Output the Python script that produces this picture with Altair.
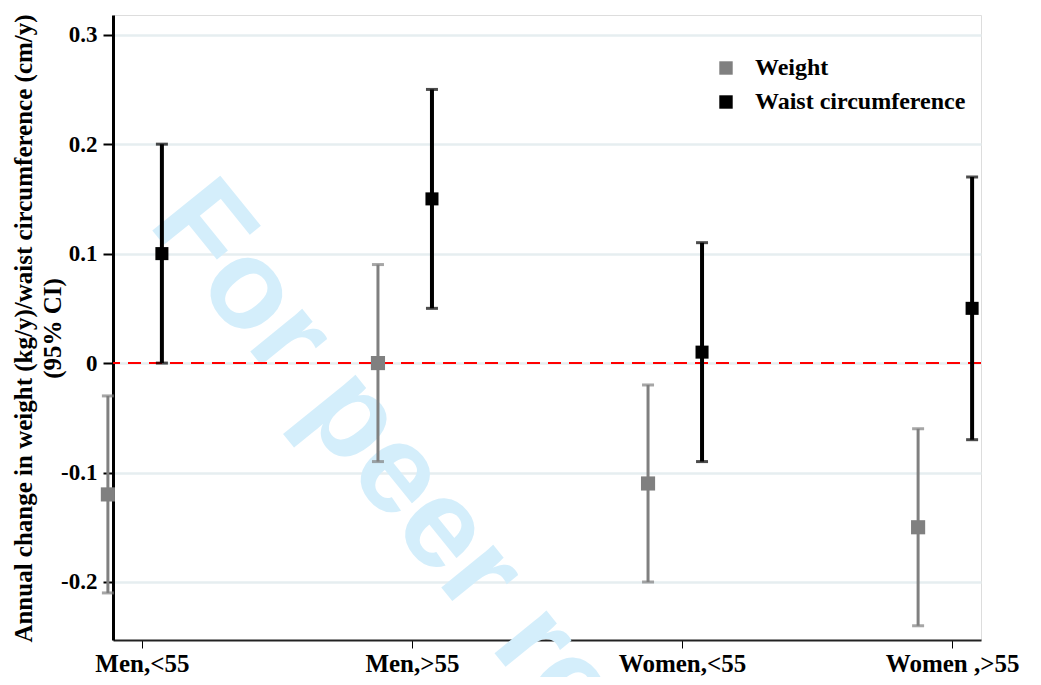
import altair as alt
import pandas as pd

categories = ["Men,<55", "Men,>55", "Women,<55", "Women ,>55"]
series = ["Weight", "Waist circumference"]
weight_mean = [-0.12, 0.00, -0.11, -0.15]
weight_lo = [-0.21, -0.09, -0.20, -0.24]
weight_hi = [-0.03, 0.09, -0.02, -0.06]
waist_mean = [0.10, 0.15, 0.01, 0.05]
waist_lo = [0.00, 0.05, -0.09, -0.07]
waist_hi = [0.20, 0.25, 0.11, 0.17]
y_ticks = [-0.2, -0.1, 0, 0.1, 0.2, 0.3]

weight_df = pd.DataFrame({"cat": categories, "series": series[0], "mean": weight_mean,
                          "lo": weight_lo, "hi": weight_hi})
waist_df = pd.DataFrame({"cat": categories, "series": series[1], "mean": waist_mean,
                         "lo": waist_lo, "hi": waist_hi})

SERIF = "Liberation Serif"
xscale = alt.Scale(type="point", domain=categories, padding=0.107)
yscale = alt.Scale(domain=[-0.253, 0.318], nice=False, zero=False)
cscale = alt.Scale(domain=series, range=["#808080", "#000000"])

x_enc = alt.X("cat:N", scale=xscale, sort=categories,
              axis=alt.Axis(title=None, labelAngle=0, labelFont=SERIF, labelFontWeight="bold",
                            labelFontSize=25, labelColor="#000", labelPadding=3,
                            domainColor="#222", domainWidth=2, tickColor="#000",
                            tickWidth=1, tickSize=8, grid=False))


def y_enc(field):
    return alt.Y(field, type="quantitative", scale=yscale,
                 axis=alt.Axis(values=y_ticks, labelExpr="'' + datum.value",
                               title=["Annual change in weight (kg/y)/waist circumference (cm/y)",
                                      "(95% CI)"],
                               titleFont=SERIF, titleFontWeight="bold", titleFontSize=25,
                               titleColor="#000", titleLineHeight=29, titleAngle=-90,
                               titleX=-102, titleY=313, titleAlign="center", titleBaseline="top",
                               labelFont=SERIF, labelFontWeight="bold", labelFontSize=23,
                               labelColor="#000", labelPadding=6,
                               domainColor="#000", domainWidth=3, tickColor="#000",
                               tickWidth=2, tickSize=10,
                               grid=True, gridColor="#e6eef0", gridWidth=2.5))


watermark = alt.Chart(pd.DataFrame({"t": ["For peer review"]})).mark_text(
    align="left", baseline="alphabetic", angle=51, fontSize=127, font="Liberation Sans",
    fontWeight="bold", color="#d4eefb"
).encode(text="t:N", x=alt.value(34), y=alt.value(209))

zero_line = alt.Chart(pd.DataFrame({"z": [0]})).mark_rule(
    color="#ff0000", strokeWidth=2, strokeDash=[13, 8]
).encode(y=alt.Y("z:Q", scale=yscale))


def series_layers(df, color, offset, bar_w, size):
    base = alt.Chart(df)
    bars = base.mark_rule(color=color, strokeWidth=bar_w, xOffset=offset).encode(
        x=x_enc, y=y_enc("lo"), y2="hi")
    cap_lo = base.mark_tick(color=color, size=12, thickness=3, xOffset=offset,
                            orient="horizontal").encode(x=x_enc, y=y_enc("lo"))
    cap_hi = base.mark_tick(color=color, size=12, thickness=3, xOffset=offset,
                            orient="horizontal").encode(x=x_enc, y=y_enc("hi"))
    pts = base.mark_point(shape="square", filled=True, opacity=1, size=size,
                          xOffset=offset).encode(
        x=x_enc, y=y_enc("mean"),
        color=alt.Color("series:N", scale=cscale, sort=series,
                        legend=alt.Legend(title=None, orient="none", legendX=601, legendY=41,
                                          symbolType="square", symbolSize=180,
                                          symbolStrokeWidth=0, labelFont=SERIF,
                                          labelFontWeight="bold", labelFontSize=24,
                                          labelColor="#000", labelOffset=17, rowPadding=10,
                                          labelLimit=0, padding=0)))
    return [bars, cap_lo, cap_hi, pts]


layers = [watermark, zero_line] + series_layers(weight_df, "#808080", -34, 3, 200) \
    + series_layers(waist_df, "#000000", 20, 4, 170)

chart = alt.layer(*layers).properties(
    width=868, height=625,
    padding={"left": 105, "top": 7, "right": 52, "bottom": 37},
    autosize=alt.AutoSizeParams(type="none"),
).configure_view(stroke=None).configure(background="white")

chart.save("out.html", embed_options={"renderer": "svg", "actions": False})
